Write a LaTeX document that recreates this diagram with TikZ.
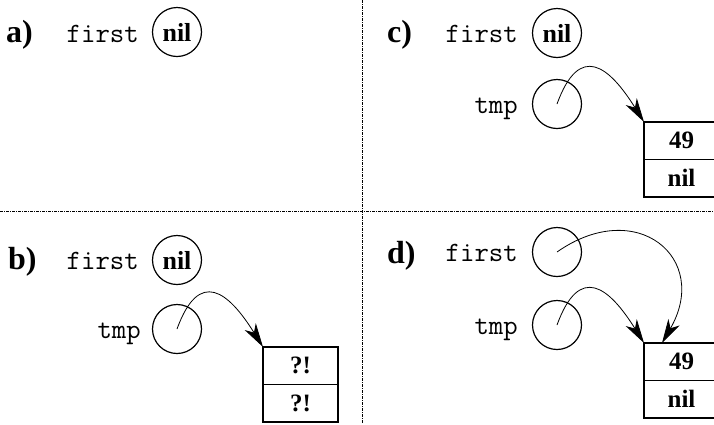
\documentclass[tikz,border=0pt]{standalone}
\usepackage{fontspec}
\setmainfont{Liberation Serif}
\usetikzlibrary{positioning,arrows.meta}

\tikzset{
  ptr/.style={circle, draw, line width=1.2pt, minimum size=49pt, inner sep=0pt,
    font=\fontsize{26}{26}\selectfont\bfseries},
  varname/.style={anchor=base east, inner sep=0pt, font=\fontsize{28}{28}\selectfont\ttfamily},
  panel/.style={anchor=base west, inner sep=0pt, font=\fontsize{32}{32}\selectfont\bfseries},
  cell/.style={draw, line width=1.2pt, minimum width=75pt, minimum height=37.5pt,
    inner sep=0pt, outer sep=0pt, font=\fontsize{25}{25}\selectfont\bfseries},
  link/.style={line width=0.8pt, -{Stealth[length=24pt,width=13pt,inset=7pt]}},
  divider/.style={line width=0.7pt, dash pattern=on 3pt off 1pt on 1pt off 1pt}
}

\begin{document}
\begin{tikzpicture}[x=1pt,y=-1pt]
\useasboundingbox (0,0) rectangle (714,424);

% quadrant dividers
\draw[divider] (0,211) -- (714,211);
\draw[divider] (362,0) -- (362,424);

% panel letters
\foreach \p/\x/\y in {a/6/42, b/8/269, c/387/42, d/387/263}
  \node[panel] (lbl\p) at (\x,\y) {\p)};

% a) empty list
\node[ptr] (nilA) at (177,32) {nil};
\node[varname] (firstA) at (139,42) {first};

% b) new cell, contents unknown
\node[ptr] (nilB) at (177,260) {nil};
\node[varname] (firstB) at (139,269) {first};
\node[ptr] (tmpB) at (177,329) {};
\node[varname] (tmpnameB) at (141,338) {tmp};
\node[cell, anchor=north west] (valB) at (263,347) {?!};
\node[cell, below=0pt of valB] (nextB) {?!};
\draw[link] (tmpB.center) to[out=70,in=122,looseness=1.9] (valB.north west);

% c) cell filled in
\node[ptr] (nilC) at (557,33) {nil};
\node[varname] (firstC) at (518,42) {first};
\node[ptr] (tmpC) at (557,104) {};
\node[varname] (tmpnameC) at (518,113) {tmp};
\node[cell, anchor=north west] (valC) at (644,122) {49};
\node[cell, below=0pt of valC] (nextC) {nil};
\draw[link] (tmpC.center) to[out=70,in=122,looseness=1.9] (valC.north west);

% d) first points to the new cell
\node[ptr] (ptrD) at (557,252) {};
\node[varname] (firstD) at (518,261) {first};
\node[ptr] (tmpD) at (557,325) {};
\node[varname] (tmpnameD) at (518,334) {tmp};
\node[cell, anchor=north west] (valD) at (644,343) {49};
\node[cell, below=0pt of valD] (nextD) {nil};
\draw[link] (tmpD.center) to[out=70,in=122,looseness=1.9] (valD.north west);
\draw[link] (ptrD.center) to[out=35,in=60,looseness=1.8] ([xshift=18pt]valD.north west);

\end{tikzpicture}
\end{document}
